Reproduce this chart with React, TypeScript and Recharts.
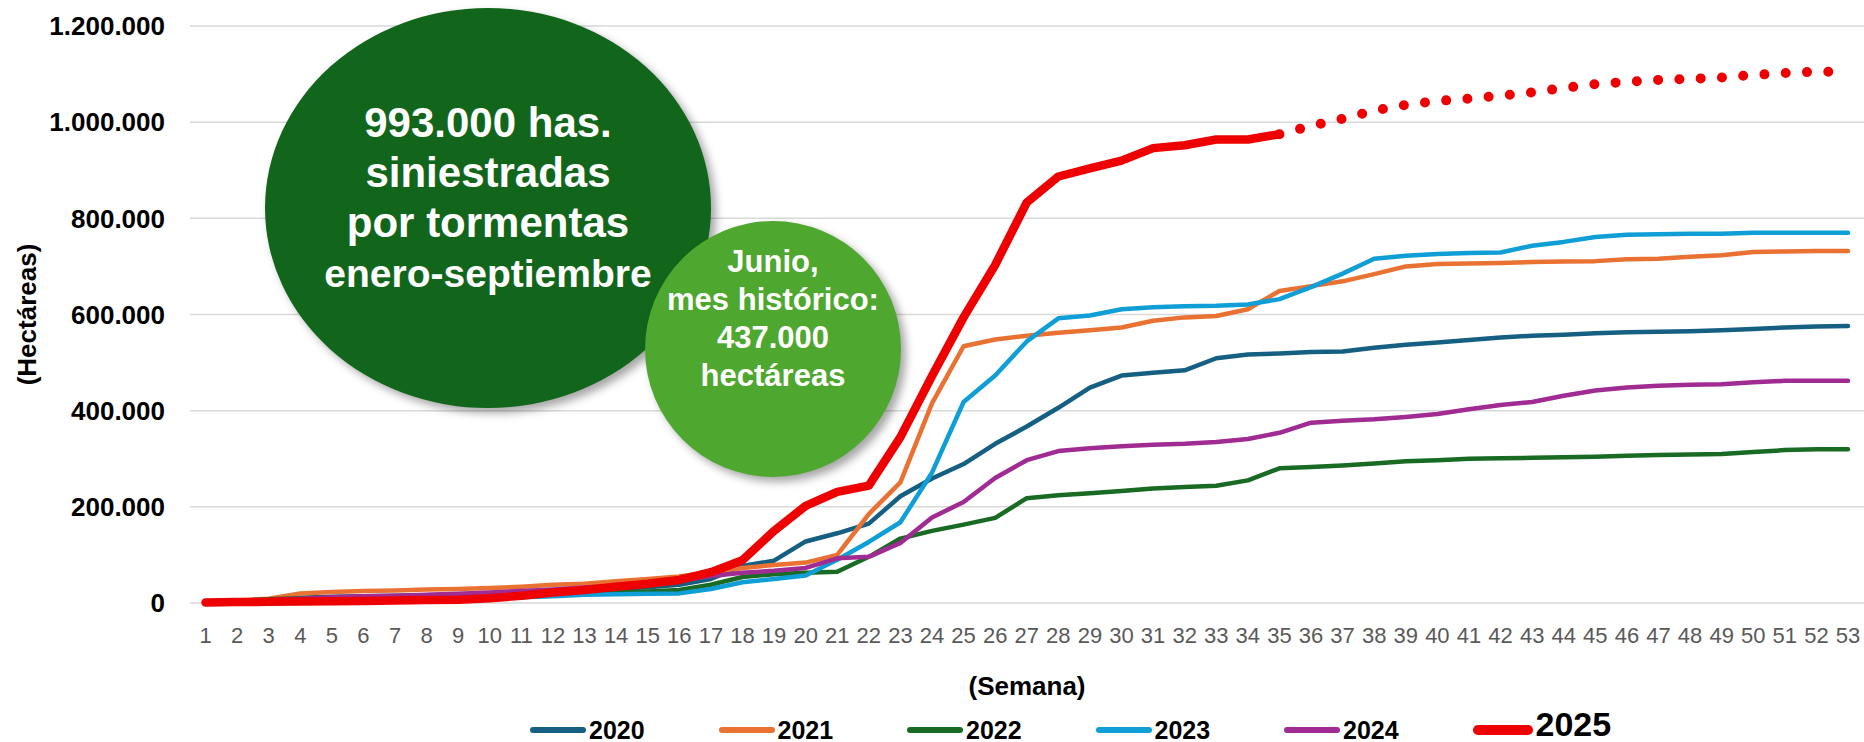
import { LineChart, Line, XAxis, YAxis, CartesianGrid } from "recharts";

// semana 1..53
const semanas = [
  "1", "2", "3", "4", "5", "6", "7", "8", "9", "10", "11", "12", "13", "14", "15", "16", "17", "18",
  "19", "20", "21", "22", "23", "24", "25", "26", "27", "28", "29", "30", "31", "32", "33", "34", "35",
  "36", "37", "38", "39", "40", "41", "42", "43", "44", "45", "46", "47", "48", "49", "50", "51", "52", "53",
];

const ha2020 = [
  1000, 4000, 8000, 11000, 13000, 14000, 15000, 16000, 18000, 20000, 22000, 24000, 26000, 29000, 33000,
  38000, 50000, 77000, 88000, 128000, 145000, 165000, 222000, 259000, 289000, 331000, 367000, 406000,
  448000, 473000, 479000, 484000, 509000, 517000, 519000, 522000, 523000, 531000, 537000, 542000, 547000,
  552000, 556000, 558000, 561000, 563000, 564000, 565000, 567000, 570000, 573000, 575000, 576000,
];

const ha2021 = [
  2000, 5000, 9000, 20000, 23000, 25000, 26000, 28000, 29000, 31000, 34000, 38000, 40000, 45000, 50000,
  55000, 64000, 73000, 79000, 84000, 100000, 185000, 251000, 415000, 534000, 548000, 556000, 562000,
  567000, 573000, 587000, 594000, 597000, 611000, 649000, 659000, 669000, 684000, 700000, 705000, 706000,
  707000, 709000, 710000, 711000, 715000, 716000, 720000, 723000, 730000, 731000, 732000, 732000,
];

const ha2022 = [
  1000, 4000, 8000, 10000, 11000, 12000, 12000, 13000, 14000, 15000, 16000, 18000, 20000, 22000, 24000,
  27000, 38000, 54000, 60000, 63000, 65000, 96000, 134000, 150000, 163000, 177000, 218000, 224000,
  228000, 233000, 238000, 241000, 244000, 255000, 280000, 283000, 286000, 290000, 295000, 297000, 300000,
  301000, 302000, 303000, 304000, 306000, 308000, 309000, 310000, 314000, 318000, 320000, 320000,
];

const ha2023 = [
  1000, 3000, 5000, 6000, 7000, 8000, 8000, 9000, 9000, 10000, 12000, 14000, 17000, 18000, 19000,
  20000, 29000, 43000, 50000, 57000, 90000, 127000, 168000, 271000, 418000, 473000, 544000, 592000,
  598000, 611000, 615000, 617000, 618000, 621000, 632000, 657000, 685000, 716000, 722000, 726000, 728000,
  729000, 743000, 751000, 761000, 766000, 767000, 768000, 768000, 770000, 770000, 770000, 770000,
];

const ha2024 = [
  1000, 3000, 6000, 9000, 12000, 14000, 15000, 17000, 19000, 22000, 25000, 28000, 32000, 36000, 40000,
  46000, 56000, 63000, 67000, 73000, 93000, 96000, 125000, 178000, 210000, 260000, 297000, 316000,
  322000, 326000, 329000, 331000, 335000, 341000, 354000, 375000, 379000, 382000, 387000, 393000, 403000,
  412000, 418000, 431000, 442000, 448000, 452000, 454000, 455000, 459000, 462000, 462000, 462000,
];

// 2025 real (hasta semana 35)
const ha2025 = [
  1000, 2000, 2500, 3000, 3500, 4000, 5000, 6000, 7000, 10000, 15000, 22000, 27000, 34000, 40000,
  48000, 64000, 89000, 150000, 202000, 231000, 244000, 345000, 472000, 594000, 703000, 833000, 887000,
  904000, 920000, 946000, 952000, 964000, 964000, 975000,
];

// 2025 proyeccion (semana 35..53)
const proy2025 = [
  975000, 992000, 1007000, 1024000, 1036000, 1044000, 1049000, 1055000, 1062000, 1071000, 1079000,
  1084000, 1088000, 1090000, 1093000, 1098000, 1102000, 1105000, 1105000,
];

const yTicks = [0, 200000, 400000, 600000, 800000, 1000000, 1200000];

const series = [
  { key: "a2020", name: "2020", color: "#156082" },
  { key: "a2021", name: "2021", color: "#E97132" },
  { key: "a2022", name: "2022", color: "#196B24" },
  { key: "a2023", name: "2023", color: "#0F9ED5" },
  { key: "a2024", name: "2024", color: "#A02B93" },
  { key: "a2025", name: "2025", color: "#EE0000" },
];

const proyStart = ha2025.length - 1;

const data = semanas.map((s, i) => ({
  semana: s,
  a2020: ha2020[i],
  a2021: ha2021[i],
  a2022: ha2022[i],
  a2023: ha2023[i],
  a2024: ha2024[i],
  a2025: i < ha2025.length ? ha2025[i] : null,
  proy: i >= proyStart ? proy2025[i - proyStart] : null,
}));

const fmt = (v: number) => String(v).replace(/\B(?=(\d{3})+(?!\d))/g, ".");

const FONT = "'Liberation Sans', Arial, sans-serif";

function Leyenda() {
  return (
    <div
      style={{
        position: "absolute",
        left: 530,
        top: 710,
        height: 40,
        display: "flex",
        alignItems: "center",
        fontFamily: FONT,
        fontWeight: 700,
        color: "#000",
      }}
    >
      {series.map((s) => {
        const big = s.name === "2025";
        return (
          <div key={s.key} style={{ width: 188.5, display: "flex", alignItems: "center" }}>
            <div
              style={{
                width: big ? 60 : 56,
                height: big ? 10 : 6,
                borderRadius: 5,
                background: s.color,
              }}
            />
            <span
              style={{
                marginLeft: 3,
                fontSize: big ? 34 : 25,
                lineHeight: 1,
                position: "relative",
                top: big ? -6 : 0,
              }}
            >
              {s.name}
            </span>
          </div>
        );
      })}
    </div>
  );
}

export default function App() {
  return (
    <div
      style={{
        position: "absolute",
        left: 0,
        top: 0,
        width: 1864,
        height: 742,
        background: "#fff",
        fontFamily: FONT,
        overflow: "hidden",
      }}
    >
      <LineChart
        width={1864}
        height={742}
        data={data}
        margin={{ top: 26, right: 0, bottom: 39, left: 0 }}
      >
        <CartesianGrid vertical={false} stroke="#d9d9d9" strokeWidth={1.5} />
        <XAxis
          dataKey="semana"
          interval={0}
          height={100}
          padding={{ left: 15.5, right: 16 }}
          axisLine={false}
          tickLine={false}
          tickSize={0}
          tickMargin={24}
          tick={{ fontSize: 22, fill: "#595959", fontFamily: FONT }}
          label={{
            value: "(Semana)",
            position: "insideBottom",
            offset: 8,
            style: { fontSize: 26, fontWeight: 700, fill: "#000", fontFamily: FONT },
          }}
        />
        <YAxis
          width={190}
          domain={[0, 1200000]}
          ticks={yTicks}
          tickFormatter={fmt}
          axisLine={false}
          tickLine={false}
          tickSize={0}
          tickMargin={25}
          tick={{ fontSize: 26, fontWeight: 700, fill: "#000", fontFamily: FONT }}
          label={{
            value: "(Hectáreas)",
            angle: -90,
            position: "insideLeft",
            offset: 27,
            style: { textAnchor: "middle", fontSize: 26, fontWeight: 700, fill: "#000", fontFamily: FONT },
          }}
        />
        {series.slice(0, 5).map((s) => (
          <Line
            key={s.key}
            type="linear"
            dataKey={s.key}
            name={s.name}
            stroke={s.color}
            strokeWidth={4.5}
            strokeLinejoin="round"
            strokeLinecap="round"
            dot={false}
            activeDot={false}
            isAnimationActive={false}
          />
        ))}
        <Line
          type="linear"
          dataKey="proy"
          stroke="#EE0000"
          strokeWidth={10}
          strokeLinecap="round"
          strokeDasharray="0 21.3"
          dot={false}
          activeDot={false}
          connectNulls={false}
          isAnimationActive={false}
        />
        <Line
          type="linear"
          dataKey="a2025"
          name="2025"
          stroke="#EE0000"
          strokeWidth={8.5}
          strokeLinejoin="round"
          strokeLinecap="round"
          dot={false}
          activeDot={false}
          isAnimationActive={false}
        />
      </LineChart>

      {/* burbuja grande */}
      <div
        style={{
          position: "absolute",
          left: 265,
          top: 8,
          width: 446,
          height: 400,
          borderRadius: "50%",
          background: "#12661B",
          boxShadow: "5px 5px 9px rgba(0,0,0,0.35)",
          color: "#fff",
          fontWeight: 700,
          fontSize: 42,
          lineHeight: "50px",
          textAlign: "center",
        }}
      >
        <div style={{ position: "absolute", left: -20, right: -20, top: 90 }}>
          993.000 has.
          <br />
          siniestradas
          <br />
          por tormentas
          <br />
          <span style={{ fontSize: 39 }}>enero-septiembre</span>
        </div>
      </div>

      {/* burbuja junio */}
      <div
        style={{
          position: "absolute",
          left: 645,
          top: 221,
          width: 256,
          height: 256,
          borderRadius: "50%",
          background: "#4EA72E",
          boxShadow: "5px 5px 9px rgba(0,0,0,0.35)",
          color: "#fff",
          fontWeight: 700,
          fontSize: 31,
          lineHeight: "38px",
          textAlign: "center",
        }}
      >
        <div style={{ position: "absolute", left: -20, right: -20, top: 22 }}>
          Junio,
          <br />
          mes histórico:
          <br />
          437.000
          <br />
          hectáreas
        </div>
      </div>

      <Leyenda />
    </div>
  );
}
